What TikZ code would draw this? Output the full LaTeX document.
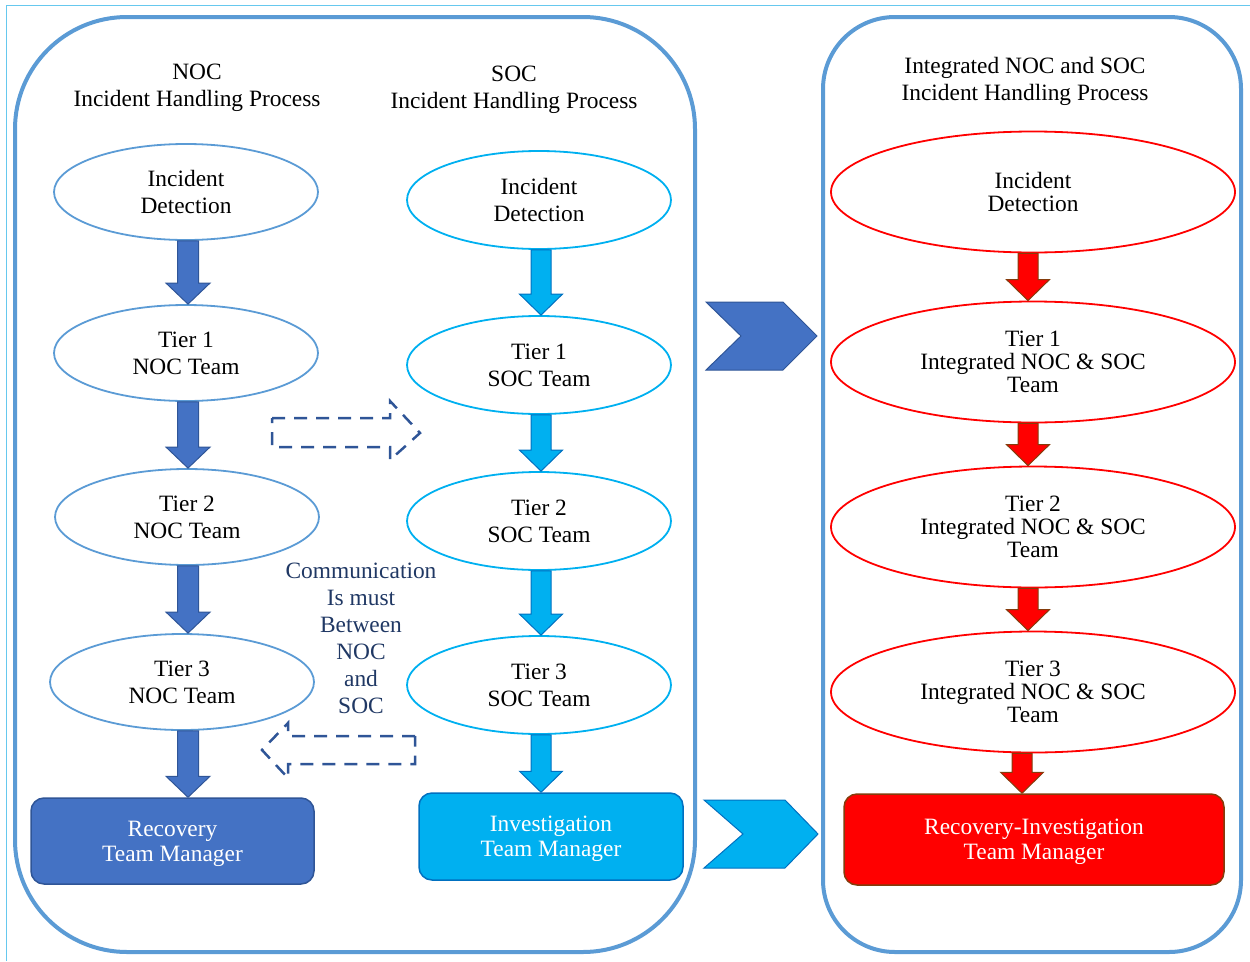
\documentclass[tikz,border=0pt]{standalone}
\usepackage{fontspec}
\setmainfont{Liberation Serif}
\usetikzlibrary{shapes.geometric,calc}
\definecolor{panelblue}{HTML}{5B9BD5}
\definecolor{framecyan}{HTML}{66C8EE}
\definecolor{nocfill}{HTML}{4472C4}
\definecolor{nocedge}{HTML}{2F5597}
\definecolor{socfill}{HTML}{00B0F0}
\definecolor{socedge}{HTML}{0070C0}
\definecolor{redfill}{HTML}{FF0000}
\definecolor{rededge}{HTML}{843C0C}
\definecolor{commtext}{HTML}{203864}

% block arrow pointing down from one node anchor to another, at a given x
\newcommand\blockdown[6]{% style, x, from, to, shaft half width, head half width
  \path[#1] let \p1=(#3), \p2=(#4) in
    (#2pt-#5pt,\y1) -- (#2pt+#5pt,\y1) -- (#2pt+#5pt,\y2+21pt)
    -- (#2pt+#6pt,\y2+21pt) -- (#2pt,\y2) -- (#2pt-#6pt,\y2+21pt)
    -- (#2pt-#5pt,\y2+21pt) -- cycle;}

\begin{document}
\begin{tikzpicture}[x=1pt,y=-1pt,
  txt/.style={font=\fontsize{23.4}{27}\selectfont, align=center, inner sep=0pt},
  low/.style={text depth=0pt},
  % invisible strut on the first line to set the text a little lower
  lower by/.style={execute at begin node={\rule{0pt}{#1}}},
  title/.style={txt, low},
  nocell/.style={ellipse, draw=panelblue, line width=1.8pt, minimum width=264pt, minimum height=96pt, txt, lower by=22pt},
  socell/.style={ellipse, draw=socfill, line width=1.8pt, minimum width=264pt, minimum height=98pt, txt, lower by=19pt},
  redell/.style={ellipse, draw=redfill, line width=1.8pt, minimum width=404pt, minimum height=121pt,
    font=\fontsize{23.4}{23}\selectfont, align=center, inner sep=0pt},
  mgrbox/.style={rounded corners=13pt, line width=1.5pt, text=white, txt, low,
    font=\fontsize{23.4}{25}\selectfont},
  nocarrow/.style={fill=nocfill, draw=nocedge, line width=1pt},
  socarrow/.style={fill=socfill, draw=socedge, line width=1pt},
  redarrow/.style={fill=redfill, draw=rededge, line width=1pt},
  dasharrow/.style={draw=nocedge, line width=2.5pt, dash pattern=on 13pt off 9pt},
  panel/.style={draw=panelblue, line width=4pt}
]
\useasboundingbox (0,0) rectangle (1250,961);

% thin outer frame (top and left only)
\draw[framecyan, line width=1pt] (6,961) -- (6,5) -- (1250,5);

% panels
\draw[panel, rounded corners=112pt] (15,17) rectangle (695,952);
\draw[panel, rounded corners=72pt] (823,17) rectangle (1241,952);

% titles
\node[title] (nocT) at (197,85) {NOC\\Incident Handling Process};
\node[title] (socT) at (514,87) {SOC\\Incident Handling Process};
\node[title] (intT) at (1025,79) {Integrated NOC and SOC\\Incident Handling Process};

% NOC column
\node[nocell] (n0) at (186,192) {Incident\\Detection};
\node[nocell] (n1) at (186,353) {Tier 1\\NOC Team};
\node[nocell] (n2) at (187,517) {Tier 2\\NOC Team};
\node[nocell] (n3) at (182,682) {Tier 3\\NOC Team};
\node[mgrbox, fill=nocfill, draw=nocedge, minimum width=283pt, minimum height=86pt] (nm) at (172.5,841) {Recovery\\Team Manager};

\blockdown{nocarrow}{188}{n0.south}{n1.north}{10.5}{22}
\blockdown{nocarrow}{188}{n1.south}{n2.north}{10.5}{22}
\blockdown{nocarrow}{188}{n2.south}{n3.north}{10.5}{22}
\blockdown{nocarrow}{188}{n3.south}{nm.north}{10.5}{22}

% SOC column
\node[socell] (s0) at (539,200) {Incident\\Detection};
\node[socell] (s1) at (539,365) {Tier 1\\SOC Team};
\node[socell] (s2) at (539,521) {Tier 2\\SOC Team};
\node[socell] (s3) at (539,685) {Tier 3\\SOC Team};
\node[mgrbox, fill=socfill, draw=socedge, minimum width=264pt, minimum height=87pt] (sm) at (551,836.5) {Investigation\\Team Manager};

\blockdown{socarrow}{541}{s0.south}{s1.north}{10}{21.5}
\blockdown{socarrow}{541}{s1.south}{s2.north}{10}{21.5}
\blockdown{socarrow}{541}{s2.south}{s3.north}{10}{21.5}
\blockdown{socarrow}{541}{s3.south}{sm.north}{10}{21.5}

% communication between NOC and SOC
\node[txt, text=commtext] (comm) at (361,638) {Communication\\Is must\\Between\\NOC\\and\\SOC};
\draw[dasharrow] (272,418) -- (390,418) -- (390,401) -- (420,433) -- (390,460) -- (390,447) -- (272,447) -- cycle;
\draw[dasharrow] (415,736) -- (288,736) -- (288,723) -- (262,750) -- (288,778) -- (288,764) -- (415,764) -- cycle;

% chevrons into the integrated process
\draw[fill=nocfill, draw=nocedge, line width=1pt]
  (706,302) -- (783,302) -- (817,336) -- (783,370) -- (706,370) -- (741,336) -- cycle;
\draw[fill=socfill, draw=socedge, line width=1pt]
  (704,800) -- (785,800) -- (818,834) -- (785,868) -- (704,868) -- (743,834) -- cycle;

% integrated column
\node[redell] (r0) at (1033,192) {Incident\\Detection};
\node[redell] (r1) at (1033,362) {Tier 1\\Integrated NOC \& SOC\\Team};
\node[redell] (r2) at (1033,527) {Tier 2\\Integrated NOC \& SOC\\Team};
\node[redell] (r3) at (1033,692) {Tier 3\\Integrated NOC \& SOC\\Team};
\node[mgrbox, fill=redfill, draw=rededge, minimum width=380pt, minimum height=91pt] (rm) at (1034,839.5) {Recovery-Investigation\\Team Manager};

\blockdown{redarrow}{1028}{r0.south}{r1.north}{10}{21.5}
\blockdown{redarrow}{1028}{r1.south}{r2.north}{10}{21.5}
\blockdown{redarrow}{1028}{r2.south}{r3.north}{10}{21.5}
\blockdown{redarrow}{1022}{r3.south}{rm.north}{10}{21.5}
\end{tikzpicture}
\end{document}
